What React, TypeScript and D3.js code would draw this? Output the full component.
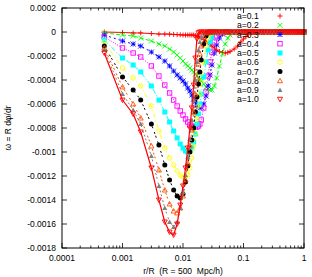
import * as d3 from 'd3';

// r/R sample points shared by every curve
const rGrid = [0.0005, 0.001, 0.0015, 0.002, 0.003, 0.004, 0.005, 0.006, 0.007, 0.008, 0.009, 0.01, 0.011, 0.012, 0.013, 0.014, 0.015, 0.016, 0.017, 0.018, 0.019, 0.02, 0.022, 0.024, 0.026, 0.028, 0.03, 0.033, 0.036, 0.04, 0.045, 0.05, 0.055, 0.06, 0.07, 0.08, 0.09, 0.1, 0.11, 0.12, 0.13, 0.14, 0.15];
// past 0.15 all the curves lie on omega = 0
const rFlat = [0.16, 0.18, 0.2, 0.22, 0.25, 0.28, 0.32, 0.36, 0.4, 0.44, 0.48, 0.52, 0.56, 0.6, 0.65, 0.7, 0.75, 0.8, 0.85, 0.9, 0.95, 1.0];

// omega in units of 1e-4, listed along rGrid (missing tail = 0)
const w01 = [0, -0.04, -0.08, -0.08, -0.13, -0.17, -0.17, -0.18, -0.2, -0.22, -0.23, -0.25, -0.25, -0.25, -0.25, -0.25, -0.25, -0.29, -0.33, -0.38, -0.42, -0.5, -0.63, -0.75, -0.92, -1.04, -1.17, -1.33, -1.5, -1.63, -1.71, -1.75, -1.71, -1.63, -1.42, -1.17, -0.83, -0.58, -0.38, -0.21, -0.08, -0.04, 0];
const w02 = [-0.08, -0.25, -0.33, -0.5, -0.75, -1.0, -1.17, -1.42, -1.67, -1.92, -2.17, -2.42, -2.67, -2.83, -3.0, -3.17, -3.33, -3.5, -3.67, -3.83, -3.92, -4.08, -4.33, -4.58, -4.75, -4.83, -4.83, -4.5, -3.83, -2.83, -1.83, -1.0, -0.5, -0.25, -0.08, 0];
const w03 = [-0.25, -0.75, -1.0, -1.17, -1.67, -2.08, -2.42, -2.83, -3.25, -3.58, -3.83, -4.08, -4.33, -4.67, -4.92, -5.25, -5.58, -5.83, -6.08, -6.25, -6.33, -6.25, -6.0, -5.33, -4.5, -3.58, -2.75, -1.75, -1.08, -0.5, -0.17, -0.04, 0];
const w04 = [-0.42, -1.33, -1.75, -2.08, -2.83, -3.67, -4.42, -5.08, -5.67, -6.17, -6.58, -6.92, -7.25, -7.5, -7.75, -7.83, -7.92, -7.92, -7.92, -7.83, -7.67, -7.33, -6.33, -5.0, -3.67, -2.5, -1.67, -0.83, -0.33, -0.08, 0];
const w05 = [-0.67, -2.17, -2.75, -3.33, -4.5, -5.67, -6.67, -7.5, -8.25, -8.83, -9.33, -9.67, -9.92, -10.0, -9.92, -9.67, -9.17, -8.5, -7.67, -6.83, -6.0, -5.17, -3.75, -2.5, -1.5, -0.83, -0.42, -0.08, 0];
const w06 = [-0.83, -3.0, -3.83, -4.5, -6.17, -8.25, -9.67, -10.5, -11.08, -11.58, -11.92, -12.08, -12.08, -11.92, -11.33, -10.5, -9.5, -8.42, -7.25, -6.17, -5.17, -4.17, -2.5, -1.17, -0.5, -0.17, 0];
const w07 = [-1.17, -3.75, -4.83, -5.67, -7.67, -9.42, -11.08, -12.33, -13.17, -13.67, -13.83, -13.5, -12.5, -11.17, -10.0, -9.0, -8.0, -6.67, -5.42, -4.33, -3.33, -2.33, -1.0, -0.33, -0.08, 0];
const w08 = [-1.33, -4.58, -6.0, -7.17, -9.5, -11.5, -13.17, -14.33, -14.92, -15.08, -14.67, -13.67, -12.33, -10.92, -9.5, -8.17, -6.67, -5.17, -3.83, -2.67, -1.83, -1.17, -0.42, -0.08, 0];
const w09 = [-1.5, -5.17, -6.5, -7.67, -10.33, -12.83, -14.67, -15.83, -16.25, -15.83, -14.67, -13.33, -11.92, -10.42, -8.92, -7.33, -5.67, -4.0, -2.5, -1.5, -0.83, -0.42, -0.08, 0];
const w10 = [-1.75, -5.67, -6.83, -8.33, -11.33, -14.0, -15.83, -16.67, -16.92, -16.0, -14.42, -12.83, -11.33, -9.67, -8.0, -6.33, -4.42, -2.17, -0.58, -0.08, 0];

const seriesValues = [w01, w02, w03, w04, w05, w06, w07, w08, w09, w10];
const seriesLabels = ['a=0.1', 'a=0.2', 'a=0.3', 'a=0.4', 'a=0.5', 'a=0.6', 'a=0.7', 'a=0.8', 'a=0.9', 'a=1.0'];
const colors = ['#ff0000', '#00ff00', '#0000ff', '#ff00ff', '#00ffff', '#ffff00', '#000000', '#ff4d00', '#808080', '#ff0000'];
const dashes = ['', '4,2', '2,3', '1,1.5', '5,2,1,2', '4,3,1,3', '2,2,2,4', '2,2,2,2,2,4', '2,2,2,2,2,2,2,4', ''];
const markers = ['plus', 'cross', 'star', 'box', 'boxf', 'circle', 'circlef', 'tri', 'trif', 'dtri'];

const xTicks = [0.0001, 0.001, 0.01, 0.1, 1];
const xTickLabels = ['0.0001', '0.001', '0.01', '0.1', '1'];
const yTicks = [0.0002, 0, -0.0002, -0.0004, -0.0006, -0.0008, -0.001, -0.0012, -0.0014, -0.0016, -0.0018];
const yTickLabels = ['0.0002', '0', '-0.0002', '-0.0004', '-0.0006', '-0.0008', '-0.001', '-0.0012', '-0.0014', '-0.0016', '-0.0018'];

const W = 312;
const H = 277;
const left = 62, right = 304, top = 8, bottom = 248;
const font = '"Liberation Sans", Arial, Helvetica, sans-serif';

function Marker({ kind, x, y, color }) {
  const s = 2.5;
  const sw = 0.9;
  switch (kind) {
    case 'plus':
      return <path d={`M${x - s},${y}H${x + s}M${x},${y - s}V${y + s}`} stroke={color} strokeWidth={sw} fill="none" />;
    case 'cross':
      return <path d={`M${x - s},${y - s}L${x + s},${y + s}M${x - s},${y + s}L${x + s},${y - s}`} stroke={color} strokeWidth={sw} fill="none" />;
    case 'star':
      return <path d={`M${x - s},${y}H${x + s}M${x},${y - s}V${y + s}M${x - s},${y - s}L${x + s},${y + s}M${x - s},${y + s}L${x + s},${y - s}`} stroke={color} strokeWidth={sw} fill="none" />;
    case 'box':
      return <rect x={x - s + 0.3} y={y - s + 0.3} width={2 * s - 0.6} height={2 * s - 0.6} stroke={color} strokeWidth={sw} fill="none" />;
    case 'boxf':
      return <rect x={x - s} y={y - s} width={2 * s} height={2 * s} fill={color} />;
    case 'circle':
      return <circle cx={x} cy={y} r={s - 0.3} stroke={color} strokeWidth={sw} fill="none" />;
    case 'circlef':
      return <circle cx={x} cy={y} r={s} fill={color} />;
    case 'tri':
      return <path d={`M${x},${y - s}L${x + s},${y + s * 0.8}L${x - s},${y + s * 0.8}Z`} stroke={color} strokeWidth={sw} fill="none" />;
    case 'trif':
      return <path d={`M${x},${y - s}L${x + s},${y + s * 0.8}L${x - s},${y + s * 0.8}Z`} fill={color} />;
    case 'dtri':
      return <path d={`M${x},${y + s}L${x + s},${y - s * 0.8}L${x - s},${y - s * 0.8}Z`} stroke={color} strokeWidth={sw} fill="none" />;
    default:
      return null;
  }
}

export default function App() {
  const x = d3.scaleLog().domain([0.0001, 1]).range([left, right]);
  const y = d3.scaleLinear().domain([-0.0018, 0.0002]).range([bottom, top]);

  const series = seriesValues.map((vals, k) => {
    const pts = rGrid.map((r, i) => ({ r, w: (vals[i] ?? 0) * 1e-4 }))
      .concat(rFlat.map(r => ({ r, w: 0 })));
    return { label: seriesLabels[k], color: colors[k], dash: dashes[k], marker: markers[k], pts };
  });

  const line = d3.line<any>().x(d => x(d.r)).y(d => y(d.w));

  // minor ticks for the log axis
  const minor: number[] = [];
  for (let e = -4; e < 0; e++) {
    for (let m = 2; m <= 9; m++) minor.push(m * Math.pow(10, e));
  }

  return (
    <svg width={W} height={H} style={{ position: 'absolute', left: 0, top: 0, background: '#fff' }} fontFamily={font}>
      <rect x={0} y={0} width={W} height={H} fill="#fff" />

      {/* ticks */}
      <g stroke="#000" strokeWidth={0.8}>
        {xTicks.map(t => (
          <g key={'xt' + t}>
            <line x1={x(t)} x2={x(t)} y1={bottom} y2={bottom - 5} />
            <line x1={x(t)} x2={x(t)} y1={top} y2={top + 5} />
          </g>
        ))}
        {minor.map(t => (
          <g key={'xm' + t}>
            <line x1={x(t)} x2={x(t)} y1={bottom} y2={bottom - 2.5} />
            <line x1={x(t)} x2={x(t)} y1={top} y2={top + 2.5} />
          </g>
        ))}
        {yTicks.map(t => (
          <g key={'yt' + t}>
            <line x1={left} x2={left + 5} y1={y(t)} y2={y(t)} />
            <line x1={right} x2={right - 5} y1={y(t)} y2={y(t)} />
          </g>
        ))}
      </g>

      {/* tick labels */}
      <g fontSize={8.5} fill="#000">
        {xTicks.map((t, i) => (
          <text key={'xl' + t} x={x(t)} y={bottom + 13} textAnchor="middle">{xTickLabels[i]}</text>
        ))}
        {yTicks.map((t, i) => (
          <text key={'yl' + t} x={left - 6} y={y(t) + 3} textAnchor="end">{yTickLabels[i]}</text>
        ))}
      </g>

      {/* curves */}
      {series.map((s, k) => (
        <g key={s.label}>
          <path d={line(s.pts) || ''} fill="none" stroke={s.color} strokeWidth={k === 9 ? 1.2 : 1} strokeDasharray={s.dash || undefined} />
          {s.pts.map((p, i) => (
            <Marker key={i} kind={s.marker} x={x(p.r)} y={y(p.w)} color={s.color} />
          ))}
        </g>
      ))}

      {/* legend */}
      <g fontSize={8.6}>
        {series.map((s, i) => (
          <g key={'lg' + s.label}>
            <text x={237} y={19.2 + i * 9.25} fill="#000">{s.label}</text>
            <Marker kind={s.marker} x={280} y={16 + i * 9.25} color={s.color} />
          </g>
        ))}
      </g>

      {/* frame */}
      <rect x={left} y={top} width={right - left} height={bottom - top} fill="none" stroke="#000" strokeWidth={1} />

      {/* axis titles */}
      <text x={(left + right) / 2} y={274} fontSize={8.5} textAnchor="middle" style={{ whiteSpace: 'pre' }}>r/R  (R = 500  Mpc/h)</text>
      <text transform={`translate(11,${(top + bottom) / 2}) rotate(-90)`} fontSize={8.5} textAnchor="middle" style={{ whiteSpace: 'pre' }}>ω = R dφ/dr</text>
    </svg>
  );
}
